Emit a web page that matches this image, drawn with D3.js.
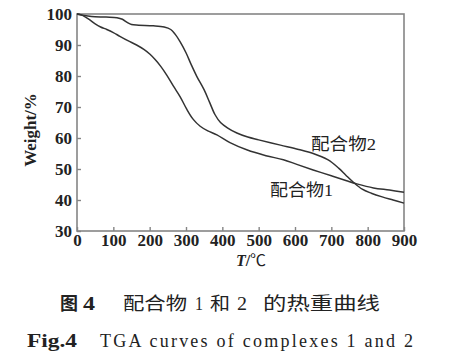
<!DOCTYPE html>
<html>
<head>
<meta charset="utf-8">
<script src="https://cdn.jsdelivr.net/npm/d3@7"></script>
<style>
  body { margin: 0; background: #fff; }
  svg { display: block; }
</style>
</head>
<body>
<div id="wrapper"></div>
<script>
// 配合物1
const temp1 = [0, 10, 30, 50, 65, 82, 100, 118, 140, 164, 185, 201, 215, 230, 247, 265, 284, 302, 320, 339, 360, 385, 421, 467, 520, 568, 605, 650, 700, 742, 770, 816, 860, 900]
const weight1 = [100, 99.8, 98.5, 96.8, 95.8, 95, 94, 92.8, 91.4, 90, 88.5, 87, 85.3, 83.2, 80.3, 76.8, 73.3, 69.3, 66, 63.8, 62.3, 61, 58.5, 56.2, 54.3, 53, 51.5, 49.7, 47.8, 46.2, 45.2, 43.9, 43.2, 42.5]
// 配合物2
const temp2 = [0, 20, 40, 80, 110, 125, 138, 150, 170, 210, 240, 258, 270, 284, 300, 315, 330, 350, 365, 380, 395, 415, 440, 470, 500, 560, 610, 650, 690, 720, 740, 760, 785, 810, 840, 870, 900]
const weight2 = [100, 99.5, 99.2, 99, 98.8, 98.3, 97.3, 96.6, 96.4, 96.2, 95.8, 95, 93.5, 91, 87.5, 83.5, 79.8, 75.5, 71.5, 67.5, 65, 63.2, 61.6, 60.3, 59.4, 57.7, 56.3, 55, 53, 50.3, 48, 45.8, 43.5, 42.2, 41, 40, 39]

const xTicks = [0, 100, 200, 300, 400, 500, 600, 700, 800, 900]
const yTicks = [30, 40, 50, 60, 70, 80, 90, 100]

const width = 450
const height = 362
const serif = "'Liberation Serif', 'Times New Roman', serif"
const cjk = "'Liberation Serif', 'Noto Sans CJK SC', serif"
const axisColor = "#858585"
const lineColor = "#333"

const svg = d3.select("#wrapper").append("svg")
    .attr("width", width)
    .attr("height", height)

const x = d3.scaleLinear().domain([0, 900]).range([77, 404])
const y = d3.scaleLinear().domain([30, 100]).range([231, 14])

// x轴
const xAxis = svg.append("g")
    .attr("transform", `translate(0,${y(30)})`)
    .call(d3.axisBottom(x).tickValues(xTicks).tickSize(-4).tickPadding(3).tickFormat(d3.format("d")))
xAxis.select(".domain").remove()
xAxis.selectAll("line").attr("stroke", axisColor).attr("stroke-width", 1.4)
xAxis.selectAll("text")
    .attr("fill", "#222")
    .style("font", `bold 17px ${serif}`)

// y轴
const yAxis = svg.append("g")
    .attr("transform", `translate(${x(0)},0)`)
    .call(d3.axisLeft(y).tickValues(yTicks).tickSize(-4).tickPadding(5).tickFormat(d3.format("d")))
yAxis.select(".domain").remove()
yAxis.selectAll("line").attr("stroke", axisColor).attr("stroke-width", 1.4)
yAxis.selectAll("text")
    .attr("fill", "#222")
    .style("font", `bold 17px ${serif}`)

// 边框
svg.append("rect")
    .attr("x", x(0))
    .attr("y", y(100))
    .attr("width", x(900) - x(0))
    .attr("height", y(30) - y(100))
    .attr("fill", "none")
    .attr("stroke", axisColor)
    .attr("stroke-width", 1.6)

const line = d3.line()
    .x(d => x(d[0]))
    .y(d => y(d[1]))
    .curve(d3.curveCatmullRom.alpha(0.5))

const series = [
    d3.zip(temp1, weight1),
    d3.zip(temp2, weight2)
]

svg.append("g")
    .selectAll("path")
    .data(series)
    .join("path")
    .attr("d", line)
    .attr("fill", "none")
    .attr("stroke", lineColor)
    .attr("stroke-width", 1.5)

// 曲线标注
svg.append("text")
    .attr("x", 311).attr("y", 150)
    .attr("textLength", 65).attr("lengthAdjust", "spacingAndGlyphs")
    .attr("fill", "#222")
    .style("font", `17px ${cjk}`)
    .text("配合物2")

svg.append("text")
    .attr("x", 270).attr("y", 196)
    .attr("textLength", 63).attr("lengthAdjust", "spacingAndGlyphs")
    .attr("fill", "#222")
    .style("font", `17px ${cjk}`)
    .text("配合物1")

// 轴标题
svg.append("text")
    .attr("transform", "translate(36,130) rotate(-90)")
    .attr("text-anchor", "middle")
    .attr("fill", "#222")
    .style("font", `bold 17px ${serif}`)
    .text("Weight/%")

const tTitle = svg.append("text")
    .attr("x", 251).attr("y", 266)
    .attr("text-anchor", "middle")
    .attr("fill", "#222")
    .style("font", `bold 16px ${serif}`)
tTitle.append("tspan").style("font-style", "italic").text("T")
tTitle.append("tspan").text("/")
tTitle.append("tspan").style("font-family", cjk).style("font-weight", "normal").text("℃")

// 图题
const cap1 = [
    { t: "图", x: 60, w: 18, bold: true },
    { t: "4", x: 83, w: 12, bold: true },
    { t: "配合物", x: 123, w: 64 },
    { t: "1", x: 195, w: 8 },
    { t: "和", x: 210, w: 20 },
    { t: "2", x: 237, w: 10 },
    { t: "的热重曲线", x: 263, w: 117 }
]
svg.append("g")
    .selectAll("text")
    .data(cap1)
    .join("text")
    .attr("x", d => d.x)
    .attr("y", 310)
    .attr("textLength", d => d.w)
    .attr("lengthAdjust", "spacingAndGlyphs")
    .attr("fill", "#222")
    .style("font", d => `${d.bold ? "bold " : ""}18px ${cjk}`)
    .text(d => d.t)

svg.append("text")
    .attr("x", 27).attr("y", 347)
    .attr("textLength", 50).attr("lengthAdjust", "spacingAndGlyphs")
    .attr("fill", "#222")
    .style("font", `bold 18px ${serif}`)
    .text("Fig.4")

svg.append("text")
    .attr("x", 100).attr("y", 347)
    .attr("textLength", 313).attr("lengthAdjust", "spacing")
    .attr("fill", "#222")
    .style("font", `18px ${serif}`)
    .text("TGA curves of complexes 1 and 2")
</script>
</body>
</html>
